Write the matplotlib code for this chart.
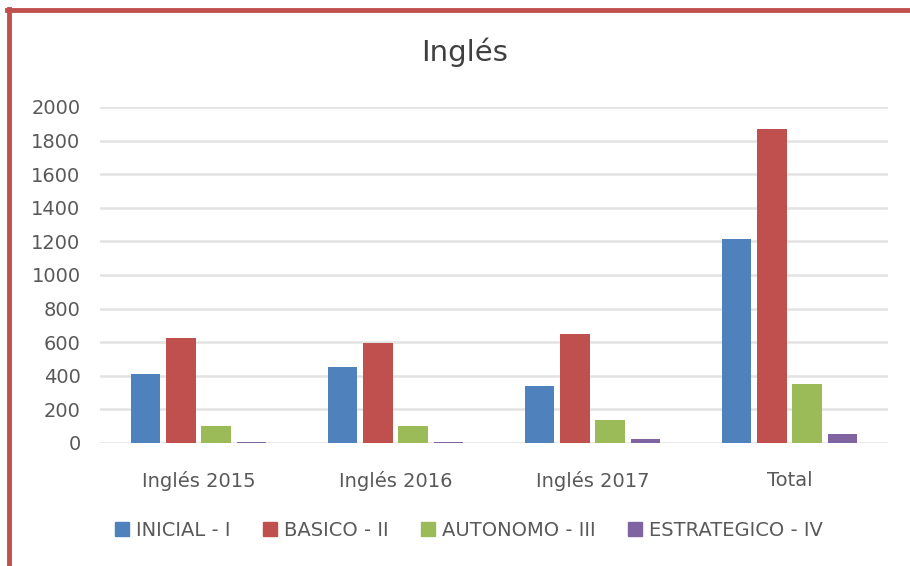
import matplotlib
matplotlib.use("Agg")
import matplotlib.pyplot as plt
import numpy as np
from matplotlib.lines import Line2D

# data
categories = ["Inglés 2015", "Inglés 2016", "Inglés 2017", "Total"]
series_names = ["INICIAL - I", "BASICO - II", "AUTONOMO - III", "ESTRATEGICO - IV"]
inicial = [413, 452, 340, 1213]
basico = [625, 595, 650, 1870]
autonomo = [103, 103, 135, 350]
estrategico = [8, 8, 25, 55]
yticks = list(range(0, 2001, 200))

colors = ["#4f81bd", "#c0504d", "#9bbb59", "#8064a2"]
text_color = "#595959"

fig = plt.figure(figsize=(9.1, 5.66), dpi=100)
ax = fig.add_axes([100 / 910, 1 - 443 / 566, 788 / 910, 336 / 566])

x = np.arange(len(categories))
step = 0.18
width = 0.15
for i, (vals, col) in enumerate(zip([inicial, basico, autonomo, estrategico], colors)):
    ax.bar(x + (i - 1.5) * step, vals, width, color=col, zorder=3)

ax.set_xlim(-0.5, 3.5)
ax.set_ylim(0, 2000)
ax.set_yticks(yticks)
ax.set_xticks(x)
ax.set_xticklabels(categories)
ax.tick_params(axis="both", length=0, labelsize=14, labelcolor=text_color)
ax.tick_params(axis="y", pad=14)
ax.tick_params(axis="x", pad=20)
ax.grid(axis="y", color="#e3e3e3", linewidth=1.8, zorder=0)
for s in ax.spines.values():
    s.set_visible(False)

fig.text(465 / 910, 1 - 52 / 566, "Inglés", ha="center", va="center",
         fontsize=21, color="#404040")

handles = [Line2D([], [], marker="s", linestyle="none", markersize=10,
                  markerfacecolor=c, markeredgecolor=c) for c in colors]
fig.legend(handles, series_names, loc="center", bbox_to_anchor=(469 / 910, 1 - 530 / 566),
           ncol=4, frameon=False, fontsize=14, labelcolor=text_color,
           handlelength=0.7, handletextpad=0.35, columnspacing=1.7)

# chart border (left and top visible)
fig.add_artist(Line2D([9 / 910, 9 / 910], [0, 1 - 9 / 566], color="#c0504d", lw=3.5,
                      transform=fig.transFigure))
fig.add_artist(Line2D([7 / 910, 1], [1 - 10 / 566, 1 - 10 / 566], color="#c0504d", lw=3.5,
                      transform=fig.transFigure))

fig.savefig("out.png", dpi=100, facecolor="white")
